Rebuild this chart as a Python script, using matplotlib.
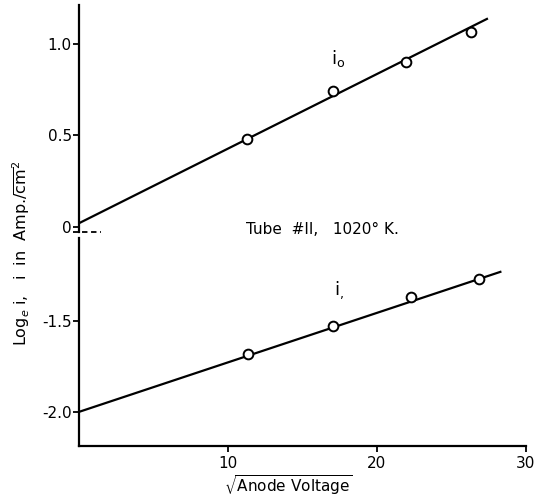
import matplotlib
matplotlib.use("Agg")
import matplotlib.pyplot as plt
import numpy as np

# data
x_i0 = [11.3, 17.1, 21.95, 26.3]
y_i0 = [0.48, 0.74, 0.90, 1.065]
x_i1 = [11.35, 17.1, 22.3, 26.9]
y_i1 = [-1.68, -1.525, -1.37, -1.27]

# fitted lines (start / end)
fit_x0 = [0.0, 27.4]
fit_y0 = [0.02, 1.134]
fit_x1 = [0.0, 28.3]
fit_y1 = [-2.0, -1.23]

top_ticks = [0, 0.5, 1.0]
top_labels = ["0", "0.5", "1.0"]
bot_ticks = [-2.0, -1.5]
bot_labels = ["-2.0", "-1.5"]
x_ticks = [10, 20, 30]

plt.rcParams['font.family'] = ['DejaVu Sans']
fig = plt.figure(figsize=(5.39, 4.97), dpi=100)

left, right = 0.146, 0.9753
ax_top = fig.add_axes([left, 0.5332, right - left, 0.990 - 0.5332])
ax_bot = fig.add_axes([left, 0.1026, right - left, 0.5211 - 0.1026])

lw = 1.6
mk = dict(marker='o', ms=7, mfc='white', mec='black', mew=1.4, ls='none', zorder=3)

ax_top.plot(fit_x0, fit_y0, color='black', lw=lw)
ax_top.plot(x_i0, y_i0, **mk)
ax_top.set_xlim(0, 30)
ax_top.set_ylim(-0.027, 1.21)

ax_bot.plot(fit_x1, fit_y1, color='black', lw=lw)
ax_bot.plot(x_i1, y_i1, **mk)
ax_bot.set_xlim(0, 30)
ax_bot.set_ylim(-2.187, -1.044)

for ax in (ax_top, ax_bot):
    for s in ('top', 'right'):
        ax.spines[s].set_visible(False)
    ax.spines['left'].set_linewidth(1.6)
    ax.tick_params(axis='y', direction='out', length=4, width=1.3, labelsize=11, pad=1)

ax_top.spines['bottom'].set_visible(False)
ax_top.set_xticks([])
ax_top.set_yticks(top_ticks)
ax_top.set_yticklabels(top_labels)

ax_bot.spines['bottom'].set_linewidth(1.6)
ax_bot.set_yticks(bot_ticks)
ax_bot.set_yticklabels(bot_labels)
ax_bot.set_xticks(x_ticks)
ax_bot.tick_params(axis='x', direction='out', length=4, width=1.3, labelsize=11, pad=3)

# axis break mark
ax_top.plot([-0.012, 0.05], [0, 0], transform=ax_top.transAxes, color='black',
            ls=(0, (3, 2)), lw=1.3, clip_on=False)

ax_top.text(17.4, 0.92, r"i$_\mathregular{o}$", fontsize=13, ha='center', va='center')
ax_bot.text(17.5, -1.33, r"i$_\mathregular{,}$", fontsize=13, ha='center', va='center')

fig.text(0.598, 1 - 230 / 497, "Tube  #II,   1020° K.", fontsize=11, ha='center', va='center')

fig.text(0.534, 0.025, r"$\sqrt{\mathrm{Anode\ Voltage}}$", fontsize=11, ha='center', va='center')
fig.text(0.04, 0.49, r"Log$_e$ i,   i  in  Amp./$\overline{\mathrm{cm}}^2$", fontsize=11.5,
         rotation=90, ha='center', va='center')

fig.savefig("out.png", dpi=100)
